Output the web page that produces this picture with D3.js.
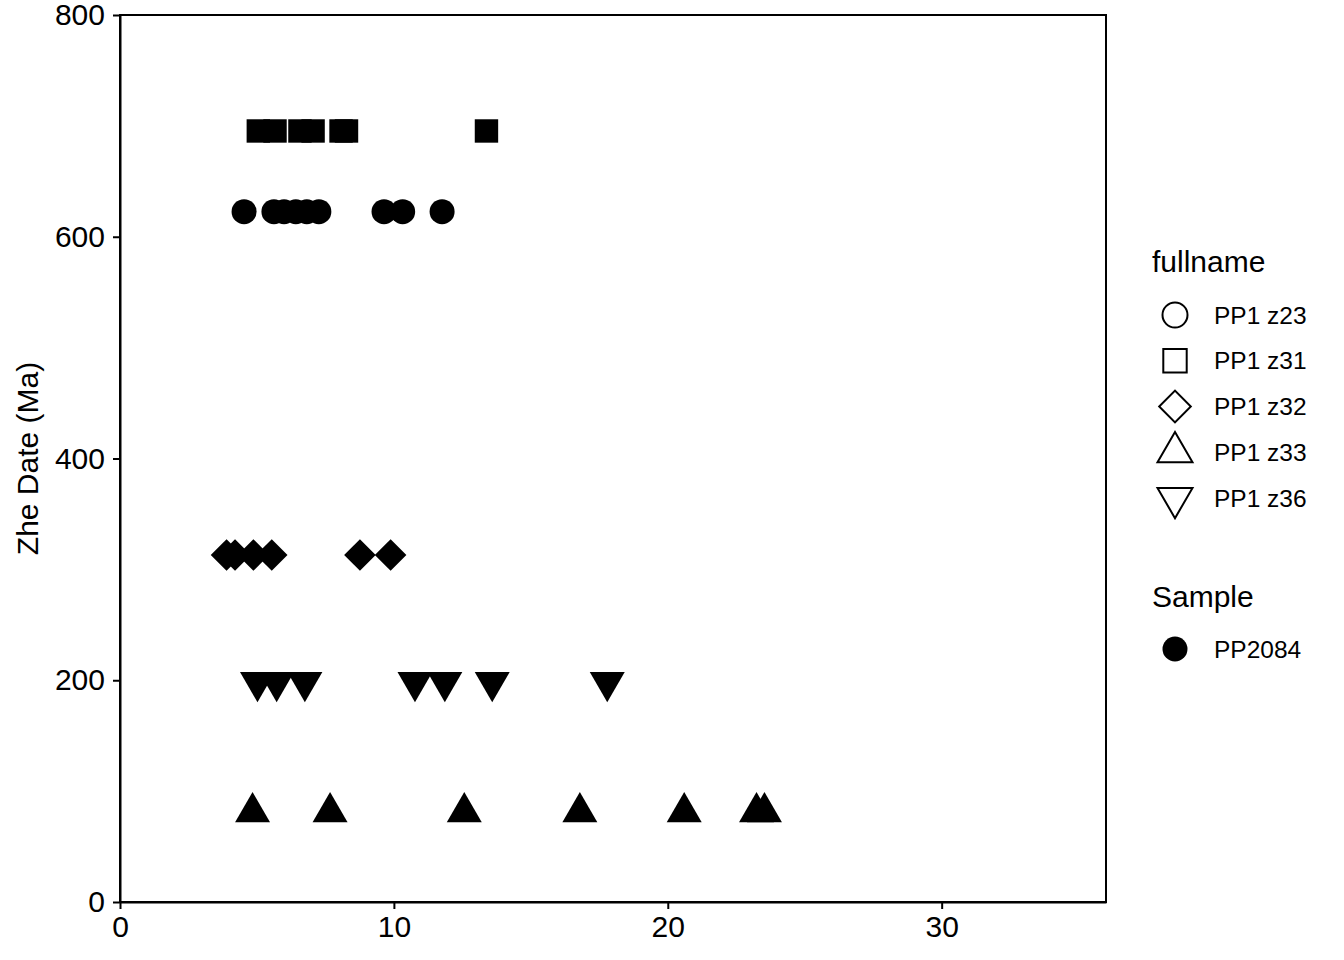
<!DOCTYPE html>
<html>
<head>
<meta charset="utf-8">
<script src="https://cdn.jsdelivr.net/npm/d3@7"></script>
<style>
  html, body { margin: 0; padding: 0; background: #fff; }
  svg { display: block; }
  text { font-family: "Liberation Sans", Arial, sans-serif; fill: #000; }
</style>
</head>
<body>
<svg id="chart" width="1344" height="960"></svg>
<script>
// ---- data ----
const fullnames = ["PP1 z23", "PP1 z31", "PP1 z32", "PP1 z33", "PP1 z36"];
const zheDates = [622.6, 695.4, 313, 81, 198.4];
const xZ23 = [4.53, 5.62, 5.99, 6.42, 6.82, 7.26, 9.64, 10.32, 11.76];
const xZ31 = [5.05, 5.66, 6.57, 7.05, 8.07, 8.27, 13.38];
const xZ32 = [3.89, 4.2, 4.87, 5.54, 8.76, 9.88];
const xZ33 = [4.84, 7.67, 12.57, 16.79, 20.6, 23.24, 23.53];
const xZ36 = [5.02, 5.72, 6.75, 10.77, 11.86, 13.59, 17.79];
const samples = ["PP2084"];
const xTicks = [0, 10, 20, 30];
const yTicks = [0, 200, 400, 600, 800];
const yTitle = "Zhe Date (Ma)";

const xSeries = [xZ23, xZ31, xZ32, xZ33, xZ36];
const points = [];
xSeries.forEach((arr, i) => arr.forEach(v => points.push({ name: fullnames[i], x: v, y: zheDates[i] })));

// ---- layout ----
const svg = d3.select("#chart");
const pL = 120, pR = 1106, pT = 15, pB = 902;
const x = d3.scaleLinear().domain([0, 36]).range([pL, pR]);
const y = d3.scaleLinear().domain([0, 800]).range([pB, pT]);

const shapeSpec = {
  "PP1 z23": { type: d3.symbolCircle, size: 491, rot: 0 },
  "PP1 z31": { type: d3.symbolSquare, size: 548, rot: 0 },
  "PP1 z32": { type: d3.symbolSquare, size: 499, rot: 45 },
  "PP1 z33": { type: d3.symbolTriangle, size: 530, rot: 0 },
  "PP1 z36": { type: d3.symbolTriangle, size: 530, rot: 180 }
};
const sym = d3.symbol();

svg.append("g").selectAll("path")
  .data(points)
  .join("path")
  .attr("d", d => sym.type(shapeSpec[d.name].type).size(shapeSpec[d.name].size)())
  .attr("transform", d => `translate(${x(d.x)},${y(d.y)}) rotate(${shapeSpec[d.name].rot})`)
  .attr("fill", "#000");

svg.append("rect")
  .attr("x", pL).attr("y", pT)
  .attr("width", pR - pL).attr("height", pB - pT)
  .attr("fill", "none").attr("stroke", "#000").attr("stroke-width", 2);

const fontTick = 30;
const xAxis = svg.append("g").attr("transform", `translate(0,${pB})`)
  .call(d3.axisBottom(x).tickValues(xTicks).tickSizeInner(7).tickSizeOuter(0).tickPadding(7).tickFormat(d3.format("d")));
const yAxis = svg.append("g").attr("transform", `translate(${pL},0)`)
  .call(d3.axisLeft(y).tickValues(yTicks).tickSizeInner(7).tickSizeOuter(0).tickPadding(8).tickFormat(d3.format("d")));
[xAxis, yAxis].forEach(a => {
  a.select(".domain").attr("stroke", "#000").attr("stroke-width", 2);
  a.selectAll(".tick line").attr("stroke", "#000").attr("stroke-width", 2);
  a.selectAll(".tick text").attr("font-size", fontTick)
    .attr("font-family", "Liberation Sans, Arial, sans-serif").attr("fill", "#000");
});

svg.append("text")
  .attr("transform", `translate(38,${(pT + pB) / 2}) rotate(-90)`)
  .attr("text-anchor", "middle")
  .attr("font-size", 30)
  .text(yTitle);

const legX = 1152, keyX = 1175, labX = 1214;
const lg = svg.append("g");
lg.append("text").attr("x", legX).attr("y", 272).attr("font-size", 30).text("fullname");
const keyY = d3.scalePoint().domain(fullnames).range([315, 498]);
fullnames.forEach(n => {
  const s = shapeSpec[n];
  lg.append("path")
    .attr("d", sym.type(s.type).size(s.size)())
    .attr("transform", `translate(${keyX},${keyY(n)}) rotate(${s.rot})`)
    .attr("fill", "none").attr("stroke", "#000").attr("stroke-width", 2);
  lg.append("text").attr("x", labX).attr("y", keyY(n)).attr("dy", "0.35em")
    .attr("font-size", 24.5).text(n);
});
lg.append("text").attr("x", legX).attr("y", 607).attr("font-size", 30).text("Sample");
samples.forEach((s, i) => {
  lg.append("path")
    .attr("d", sym.type(d3.symbolCircle).size(491)())
    .attr("transform", `translate(${keyX},${649 + i * 46})`)
    .attr("fill", "#000");
  lg.append("text").attr("x", labX).attr("y", 649 + i * 46).attr("dy", "0.35em")
    .attr("font-size", 24.5).text(s);
});
</script>
</body>
</html>
